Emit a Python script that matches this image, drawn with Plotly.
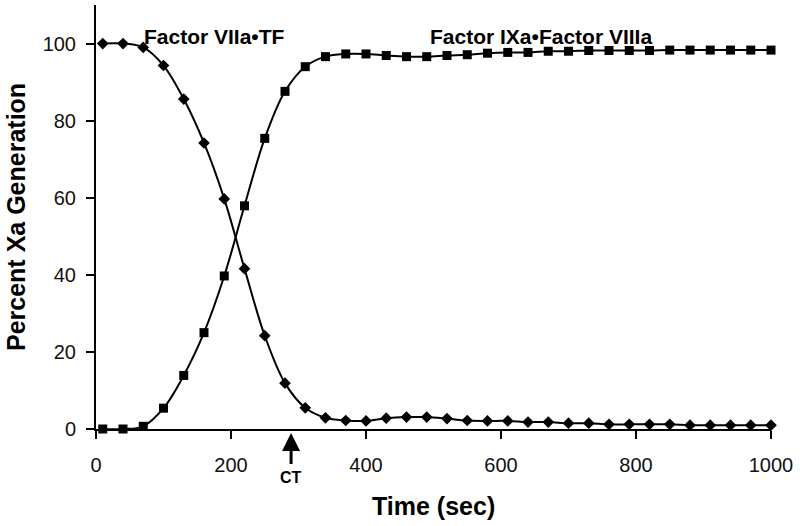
import plotly.graph_objects as go

time_sec = [10 + 30 * i for i in range(34)]

factor_viia_tf = [100, 100, 99, 94.3, 85.6, 74.2, 59.7, 41.6, 24.2, 11.9, 5.5, 2.9,
                  2.2, 2.1, 2.8, 3.1, 3.1, 2.7, 2.2, 2.1, 2.1, 1.8, 1.8, 1.5, 1.5,
                  1.2, 1.2, 1.2, 1.2, 1.0, 1.0, 1.0, 1.0, 1.0]

factor_ixa_viiia = [0, 0, 0.7, 5.4, 13.9, 25.0, 39.7, 57.9, 75.4, 87.6, 94.0, 96.6,
                    97.3, 97.3, 96.9, 96.6, 96.6, 96.9, 97.1, 97.5, 97.7, 97.7, 98.0,
                    98.0, 98.2, 98.2, 98.2, 98.2, 98.3, 98.3, 98.3, 98.3, 98.3, 98.3]

x_ticks = [0, 200, 400, 600, 800, 1000]
y_ticks = [0, 20, 40, 60, 80, 100]

ct_time = 289
label_viia = "Factor VIIa•TF"
label_ixa = "Factor IXa•Factor VIIIa"

FONT = "Liberation Sans, Arial, sans-serif"

fig = go.Figure()
fig.add_trace(go.Scatter(
    x=time_sec, y=factor_viia_tf, mode="lines+markers",
    line=dict(color="black", width=2, shape="spline", smoothing=1),
    marker=dict(symbol="diamond", size=9, color="black"),
    cliponaxis=False, showlegend=False))
fig.add_trace(go.Scatter(
    x=time_sec, y=factor_ixa_viiia, mode="lines+markers",
    line=dict(color="black", width=2, shape="spline", smoothing=1),
    marker=dict(symbol="square", size=9, color="black"),
    cliponaxis=False, showlegend=False))

fig.update_layout(
    width=800, height=526,
    margin=dict(l=96, r=29, t=5, b=97, autoexpand=False),
    paper_bgcolor="white", plot_bgcolor="white",
    font=dict(family=FONT, color="#111"),
    xaxis=dict(range=[0, 1000], tickvals=x_ticks, ticks="outside", ticklen=8,
               tickwidth=1.5, tickcolor="black", showline=True, linecolor="black",
               linewidth=2, showgrid=False, zeroline=False, ticklabelstandoff=9,
               tickfont=dict(size=20, family=FONT, color="#111")),
    yaxis=dict(range=[0, 110], tickvals=y_ticks, ticks="outside", ticklen=8,
               tickwidth=1.5, tickcolor="black", showline=True, linecolor="black",
               linewidth=2, showgrid=False, zeroline=False, ticklabelstandoff=6,
               tickfont=dict(size=20, family=FONT, color="#111")),
    annotations=[
        dict(x=175.6, y=101.7, xref="x", yref="y", text=f"<b>{label_viia}</b>",
             showarrow=False, xanchor="center", yanchor="middle",
             font=dict(size=21, family=FONT, color="black")),
        dict(x=659, y=101.7, xref="x", yref="y", text=f"<b>{label_ixa}</b>",
             showarrow=False, xanchor="center", yanchor="middle",
             font=dict(size=21, family=FONT, color="black")),
        dict(x=-0.1185, y=0.5, xref="paper", yref="paper",
             text="<b>Percent Xa Generation</b>", textangle=-90, showarrow=False,
             xanchor="center", yanchor="middle",
             font=dict(size=25, family=FONT, color="black")),
        dict(x=0.5, y=-0.1816, xref="paper", yref="paper",
             text="<b>Time (sec)</b>", showarrow=False,
             xanchor="center", yanchor="middle",
             font=dict(size=25, family=FONT, color="black")),
        dict(x=ct_time, y=-0.0094, xref="x", yref="paper", text="<b>CT</b>",
             showarrow=True, ax=0, ay=45, arrowhead=2, arrowsize=1.2,
             arrowwidth=3, arrowcolor="black", startstandoff=4,
             font=dict(size=16, family=FONT, color="black")),
    ],
)

fig.write_html("out.html", config={"displayModeBar": False},
               post_script="document.body.style.margin='0';document.body.style.padding='0';")
